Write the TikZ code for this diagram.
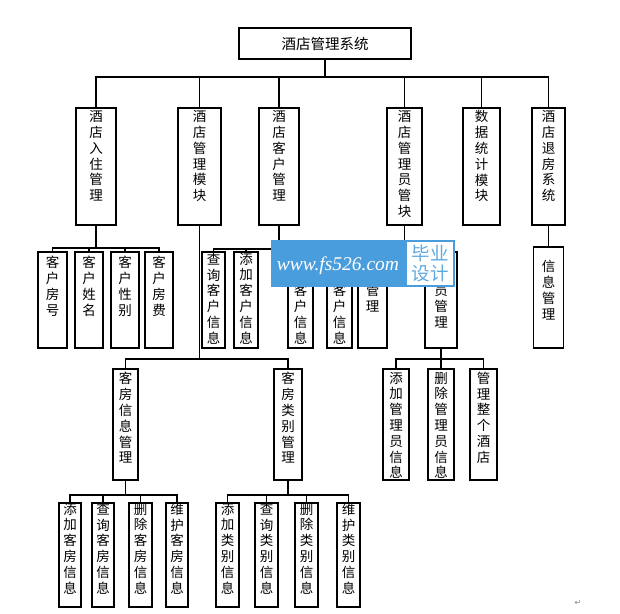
\documentclass[tikz,border=0pt]{standalone}
\usepackage{fontspec}
\newfontfamily\cjk{Noto Sans CJK SC}
\newfontfamily\wmfont{Liberation Serif}
\newfontfamily\symfont{DejaVu Sans}
\definecolor{wmblue}{RGB}{74,157,221}
\definecolor{wmtext}{RGB}{96,170,226}
\def\vchars#1{\ifx\relax#1\else#1\par\expandafter\vchars\fi}
\newcommand{\vt}[3][3pt]{\parbox[t][#2][t]{1em}{\centering\vspace*{#1}\vchars#3\relax}}
\tikzset{box/.style={draw, line width=1.8pt, inner sep=0pt, anchor=north, font=\cjk\fontsize{13.5}{15.8}\selectfont},
	link/.style={line width=1.8pt}}

\begin{document}
\begin{tikzpicture}[x=1pt, y=-1pt]
	\path[use as bounding box, fill=white] (0,0) rectangle (620,613);
	\node[box, anchor=center, minimum width=172pt, minimum height=31pt, font=\cjk\fontsize{14.5}{16}\selectfont] (root) at (325,43.5) {酒店管理系统};
	\node[box, minimum width=40pt] (ruzhu) at (96,107) {\vt[2.6pt]{117pt}{酒店入住管理}};
	\node[box, minimum width=43pt] (mokuai) at (199.5,107) {\vt[2.6pt]{117pt}{酒店管理模块}};
	\node[box, minimum width=40pt] (kehu) at (279,107) {\vt[2.6pt]{117pt}{酒店客户管理}};
	\node[box, minimum width=35pt] (guanli) at (404.5,107) {\vt[2.6pt]{117pt}{酒店管理员管块}};
	\node[box, minimum width=37pt] (tongji) at (481.5,107) {\vt[2.6pt]{117pt}{数据统计模块}};
	\node[box, minimum width=33pt] (tuifang) at (548.5,107) {\vt[2.6pt]{117pt}{酒店退房系统}};
	\node[box, minimum width=29pt] (fanghao) at (52.5,251) {\vt[4.6pt]{96pt}{客户房号}};
	\node[box, minimum width=28pt] (xingming) at (89,251) {\vt[4.6pt]{96pt}{客户姓名}};
	\node[box, minimum width=28pt] (xingbie) at (125,251) {\vt[4.6pt]{96pt}{客户性别}};
	\node[box, minimum width=28pt] (fangfei) at (159,251) {\vt[4.6pt]{96pt}{客户房费}};
	\node[box, minimum width=23pt] (chaxun) at (213.5,251) {\vt[1pt]{96pt}{查询客户信息}};
	\node[box, minimum width=24pt] (tianjia) at (246,251) {\vt[1pt]{96pt}{添加客户信息}};
	\node[box, minimum width=25pt] (kehu3) at (300.5,251) {\vt[32.6pt]{96pt}{客户信息}};
	\node[box, minimum width=25pt] (kehu4) at (339.5,251) {\vt[32.6pt]{96pt}{客户信息}};
	\node[box, minimum width=29pt] (kehu5) at (372.5,251) {\vt[32.6pt]{96pt}{管理}};
	\node[box, minimum width=32pt] (yuangl) at (441,251) {\vt[33pt]{96pt}{员管理}};
	\node[box, minimum width=30pt] (xinxi) at (548.5,246) {\vt[13.6pt]{101pt}{信息管理}};
	\node[box, minimum width=25pt] (kfxx) at (125.5,368) {\vt[3.6pt]{111pt}{客房信息管理}};
	\node[box, minimum width=28pt] (kflb) at (288,368) {\vt[3.6pt]{111pt}{客房类别管理}};
	\node[box, minimum width=26pt] (tjgly) at (396,368) {\vt[3pt]{111pt}{添加管理员信息}};
	\node[box, minimum width=26pt] (scgly) at (441,368) {\vt[3pt]{111pt}{删除管理员信息}};
	\node[box, minimum width=27pt] (glzg) at (483.5,368) {\vt[3pt]{111pt}{管理整个酒店}};
	\node[box, minimum width=22pt] (tjkf) at (70,502) {\vt[0pt]{104pt}{添加客房信息}};
	\node[box, minimum width=22pt] (cxkf) at (103,502) {\vt[0pt]{104pt}{查询客房信息}};
	\node[box, minimum width=23pt] (sckf) at (140.5,502) {\vt[0pt]{104pt}{删除客房信息}};
	\node[box, minimum width=22pt] (whkf) at (177,502) {\vt[0pt]{104pt}{维护客房信息}};
	\node[box, minimum width=23pt] (tjlb) at (227.5,502) {\vt[0pt]{104pt}{添加类别信息}};
	\node[box, minimum width=23pt] (cxlb) at (266.5,502) {\vt[0pt]{104pt}{查询类别信息}};
	\node[box, minimum width=23pt] (sclb) at (306.5,502) {\vt[0pt]{104pt}{删除类别信息}};
	\node[box, minimum width=23pt] (whlb) at (348.5,502) {\vt[0pt]{104pt}{维护类别信息}};
	\foreach \c in {ruzhu,mokuai,kehu,guanli,tongji,tuifang}
		\draw[link] (root.south) -- ++(0,17) -| (\c.north);
	\foreach \c in {fanghao,xingming,xingbie,fangfei}
		\draw[link] (ruzhu.south) -- ++(0,22) -| (\c.north);
	\foreach \c in {chaxun,tianjia,kehu3,kehu4,kehu5}
		\draw[link] (kehu.south) -- ++(0,23) -| (\c.north);
	\draw[link] (guanli.south) -- ++(0,23) -| (yuangl.north);
	\draw[link] (tuifang.south) -- (xinxi.north);
	\foreach \c in {kfxx,kflb}
		\draw[link] (mokuai.south) -- ++(0,133) -| (\c.north);
	\foreach \c in {tjgly,scgly,glzg}
		\draw[link] (yuangl.south) -- ++(0,10) -| (\c.north);
	\foreach \c in {tjkf,cxkf,sckf,whkf}
		\draw[link] (kfxx.south) -- ++(0,14) -| (\c.north);
	\foreach \c in {tjlb,cxlb,sclb,whlb}
		\draw[link] (kflb.south) -- ++(0,14) -| (\c.north);
	\node[fill=wmblue, minimum width=184pt, minimum height=47pt, inner sep=0pt, anchor=north west] (mark) at (271,240) {};
	\node[fill=white, minimum width=46pt, minimum height=43pt, inner sep=0pt, anchor=north west, text=wmtext, align=center, font=\cjk\fontsize{18.5}{20}\selectfont] (marktag) at (407,242) {毕业\\设计};
	\node[anchor=base, inner sep=0pt, text=white, font=\wmfont\itshape\fontsize{19.5}{20}\selectfont] (markurl) at (338,270) {www.fs526.com};
	\node[text=gray, font=\symfont\fontsize{8}{8}\selectfont] (ret) at (578,603) {↵};
\end{tikzpicture}
\end{document}
